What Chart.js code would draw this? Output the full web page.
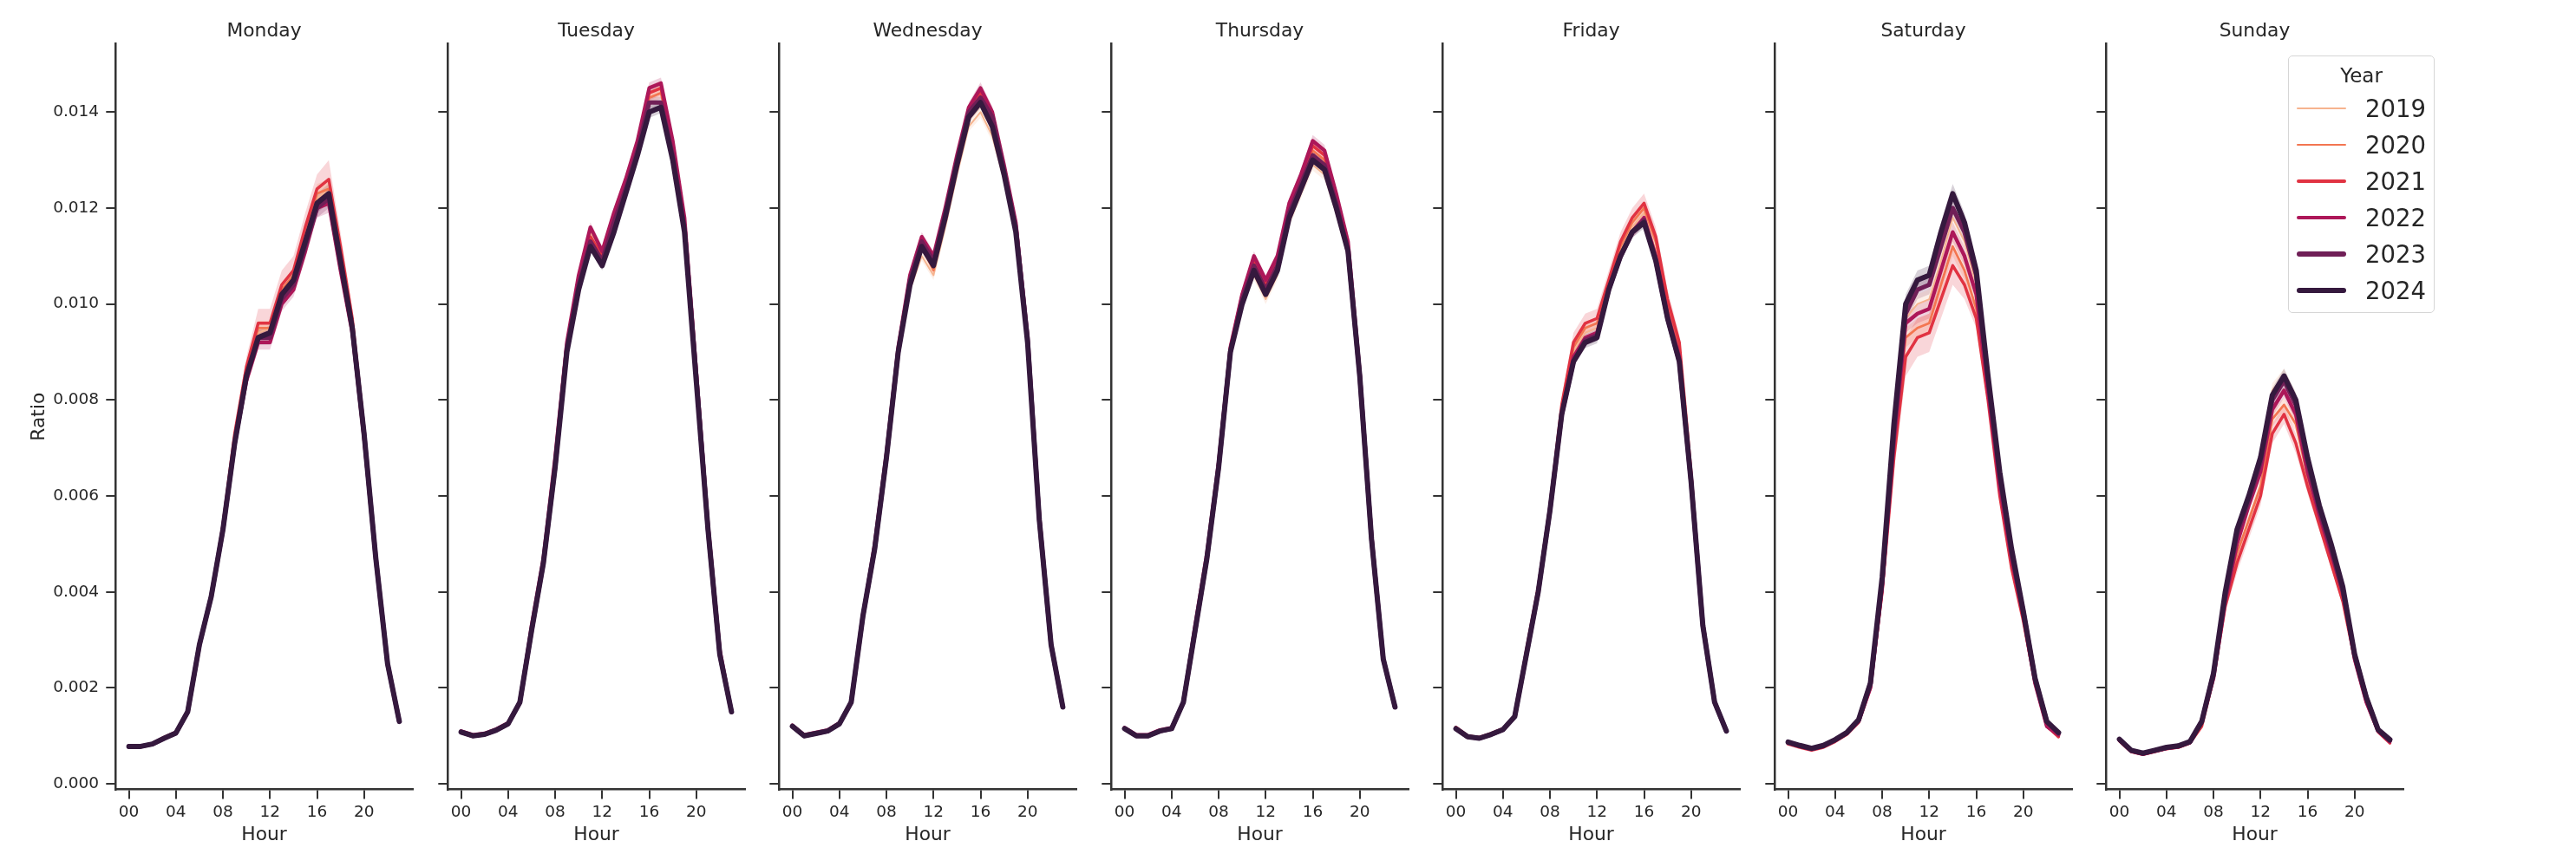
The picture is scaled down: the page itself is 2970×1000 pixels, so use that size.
<!DOCTYPE html>
<html>
<head>
<meta charset="utf-8">
<script src="https://cdn.jsdelivr.net/npm/chart.js@4.4.1/dist/chart.umd.min.js"></script>
<style>
  body { margin: 0; background: #fff; width: 2970px; height: 1000px; position: relative; overflow: hidden; font-family: "DejaVu Sans", sans-serif; }
  canvas { position: absolute; top: 0; }
  #legend { position: absolute; left: 2638px; top: 64px; width: 167px; height: 295px; border: 1.5px solid #d6d6d6; border-radius: 5px; background: rgba(255,255,255,0.85); color: #262626; z-index: 5; }
  #legend .ttl { position: absolute; left: 0; width: 167px; top: 9px; text-align: center; font-size: 23px; }
  #legend .row { position: absolute; left: 0; width: 167px; height: 40px; }
  #legend .swatch { position: absolute; left: 9px; width: 57px; border-radius: 3px; }
  #legend .lbl { position: absolute; left: 88px; font-size: 27.5px; line-height: 40px; top: 0; }
</style>
</head>
<body>
<div id="legend"><div class="ttl">Year</div></div>
<script>
const days = ['Monday', 'Tuesday', 'Wednesday', 'Thursday', 'Friday', 'Saturday', 'Sunday'];
const years = ['2019', '2020', '2021', '2022', '2023', '2024'];
const hours = [0, 1, 2, 3, 4, 5, 6, 7, 8, 9, 10, 11, 12, 13, 14, 15, 16, 17, 18, 19, 20, 21, 22, 23];
const xTicks = [0, 4, 8, 12, 16, 20];
const xTickLabels = ['00', '04', '08', '12', '16', '20'];
const yTicks = [0, 0.002, 0.004, 0.006, 0.008, 0.010, 0.012, 0.014];
const yTickLabels = ['0.000', '0.002', '0.004', '0.006', '0.008', '0.010', '0.012', '0.014'];

// ratio per year, one row per weekday (Mon..Sun), 24 hours each
const ratio2019 = [
  [0.00078,0.00078,0.00083,0.00095,0.00106,0.0015,0.0029,0.0039,0.0053,0.0072,0.0086,0.0094,0.0095,0.0102,0.0106,0.0114,0.0122,0.0124,0.0110,0.0096,0.0073,0.0047,0.0025,0.0013],
  [0.00108,0.00100,0.00103,0.00112,0.00125,0.0017,0.0032,0.0046,0.0067,0.0091,0.0105,0.0115,0.0110,0.0118,0.0125,0.0133,0.0144,0.0145,0.0132,0.0117,0.0085,0.0053,0.0027,0.0015],
  [0.00120,0.00100,0.00105,0.00110,0.00125,0.0017,0.0035,0.0049,0.0068,0.0089,0.0103,0.0110,0.0106,0.0116,0.0127,0.0137,0.0140,0.0135,0.0126,0.0114,0.0091,0.0055,0.0029,0.0016],
  [0.00115,0.00100,0.00100,0.00110,0.00115,0.0017,0.0032,0.0047,0.0066,0.0089,0.0100,0.0106,0.0101,0.0106,0.0117,0.0123,0.0129,0.0127,0.0119,0.0110,0.0084,0.0051,0.0026,0.0016],
  [0.00116,0.00099,0.00096,0.00104,0.00114,0.0014,0.0027,0.0040,0.0057,0.0078,0.0090,0.0094,0.0095,0.0104,0.0111,0.0116,0.0119,0.0111,0.0099,0.0090,0.0064,0.0033,0.0017,0.0011],
  [0.00085,0.00078,0.00072,0.00078,0.00090,0.00105,0.00130,0.0020,0.0041,0.0072,0.0097,0.0100,0.0101,0.0109,0.0118,0.0113,0.0104,0.0083,0.0063,0.0047,0.0035,0.0021,0.0012,0.00102],
  [0.00092,0.00069,0.00063,0.00069,0.00075,0.00078,0.00087,0.0013,0.0023,0.0039,0.0052,0.0059,0.0066,0.0082,0.0085,0.0080,0.0067,0.0057,0.0049,0.0040,0.0027,0.0018,0.00112,0.00090]
];
const ratio2020 = [
  [0.00078,0.00078,0.00083,0.00096,0.00107,0.0015,0.0029,0.0039,0.0054,0.0072,0.0086,0.0095,0.0095,0.0103,0.0106,0.0114,0.0123,0.0124,0.0110,0.0096,0.0073,0.0047,0.0025,0.0013],
  [0.00108,0.00100,0.00103,0.00112,0.00125,0.0017,0.0032,0.0046,0.0067,0.0091,0.0105,0.0114,0.0110,0.0117,0.0125,0.0133,0.0143,0.0144,0.0132,0.0117,0.0085,0.0053,0.0027,0.0015],
  [0.00120,0.00100,0.00105,0.00110,0.00125,0.0017,0.0035,0.0049,0.0068,0.0090,0.0104,0.0112,0.0107,0.0118,0.0129,0.0139,0.0142,0.0138,0.0127,0.0115,0.0092,0.0055,0.0029,0.0016],
  [0.00115,0.00100,0.00100,0.00110,0.00115,0.0017,0.0032,0.0047,0.0066,0.0090,0.0101,0.0108,0.0104,0.0108,0.0119,0.0125,0.0132,0.0130,0.0121,0.0111,0.0085,0.0051,0.0026,0.0016],
  [0.00117,0.00099,0.00096,0.00104,0.00114,0.0014,0.0027,0.0040,0.0058,0.0078,0.0091,0.0095,0.0096,0.0104,0.0112,0.0117,0.0120,0.0113,0.0100,0.0091,0.0064,0.0033,0.0017,0.0011],
  [0.00084,0.00077,0.00071,0.00077,0.00089,0.00104,0.00129,0.0020,0.0040,0.0070,0.0093,0.0095,0.0096,0.0104,0.0112,0.0107,0.0099,0.0081,0.0061,0.0046,0.0035,0.0021,0.0012,0.00100],
  [0.00090,0.00068,0.00062,0.00068,0.00074,0.00077,0.00086,0.0013,0.0022,0.0038,0.0048,0.0055,0.0062,0.0076,0.0079,0.0075,0.0064,0.0055,0.0047,0.0039,0.0026,0.0017,0.00110,0.00087]
];
const ratio2021 = [
  [0.00079,0.00079,0.00084,0.00097,0.00108,0.0015,0.0029,0.0039,0.0054,0.0073,0.0087,0.0096,0.0096,0.0104,0.0107,0.0116,0.0124,0.0126,0.0112,0.0097,0.0074,0.0048,0.0025,0.0013],
  [0.00109,0.00101,0.00104,0.00113,0.00126,0.0017,0.0032,0.0046,0.0067,0.0091,0.0105,0.0114,0.0110,0.0118,0.0125,0.0133,0.0144,0.0145,0.0133,0.0117,0.0085,0.0054,0.0027,0.0015],
  [0.00121,0.00101,0.00106,0.00111,0.00126,0.0017,0.0035,0.0049,0.0068,0.0090,0.0105,0.0113,0.0109,0.0119,0.0130,0.0140,0.0144,0.0139,0.0128,0.0116,0.0093,0.0055,0.0029,0.0016],
  [0.00116,0.00101,0.00101,0.00111,0.00116,0.0017,0.0032,0.0047,0.0067,0.0091,0.0102,0.0109,0.0104,0.0109,0.0120,0.0126,0.0133,0.0131,0.0122,0.0112,0.0086,0.0051,0.0026,0.0016],
  [0.00118,0.00100,0.00097,0.00105,0.00115,0.0014,0.0028,0.0041,0.0058,0.0079,0.0092,0.0096,0.0097,0.0105,0.0113,0.0118,0.0121,0.0114,0.0101,0.0092,0.0065,0.0034,0.0017,0.0011],
  [0.00083,0.00076,0.00070,0.00076,0.00088,0.00103,0.00128,0.0020,0.0040,0.0068,0.0089,0.0093,0.0094,0.0101,0.0108,0.0104,0.0097,0.0080,0.0060,0.0045,0.0034,0.0021,0.0012,0.00098],
  [0.00089,0.00067,0.00061,0.00067,0.00073,0.00076,0.00085,0.0012,0.0022,0.0037,0.0046,0.0053,0.0060,0.0073,0.0077,0.0071,0.0062,0.0054,0.0046,0.0038,0.0026,0.0017,0.00108,0.00085]
];
const ratio2022 = [
  [0.00078,0.00078,0.00083,0.00095,0.00105,0.0015,0.0029,0.0039,0.0053,0.0071,0.0084,0.0092,0.0092,0.0100,0.0103,0.0111,0.0120,0.0121,0.0107,0.0094,0.0072,0.0047,0.0025,0.0013],
  [0.00110,0.00102,0.00105,0.00114,0.00127,0.0017,0.0033,0.0047,0.0068,0.0092,0.0106,0.0116,0.0111,0.0119,0.0126,0.0134,0.0145,0.0146,0.0134,0.0118,0.0086,0.0054,0.0028,0.0015],
  [0.00122,0.00102,0.00107,0.00112,0.00127,0.0017,0.0035,0.0050,0.0069,0.0091,0.0106,0.0114,0.0110,0.0120,0.0131,0.0141,0.0145,0.0140,0.0129,0.0117,0.0093,0.0056,0.0029,0.0016],
  [0.00117,0.00102,0.00102,0.00112,0.00117,0.0017,0.0033,0.0048,0.0067,0.0091,0.0102,0.0110,0.0105,0.0110,0.0121,0.0127,0.0134,0.0132,0.0123,0.0113,0.0086,0.0052,0.0026,0.0016],
  [0.00115,0.00098,0.00095,0.00103,0.00113,0.0014,0.0027,0.0040,0.0057,0.0077,0.0089,0.0093,0.0094,0.0103,0.0110,0.0115,0.0118,0.0110,0.0098,0.0089,0.0063,0.0033,0.0017,0.0011],
  [0.00085,0.00078,0.00072,0.00078,0.00090,0.00105,0.00130,0.0020,0.0041,0.0071,0.0096,0.0098,0.0099,0.0107,0.0115,0.0110,0.0102,0.0082,0.0062,0.0047,0.0035,0.0021,0.0012,0.00102],
  [0.00091,0.00068,0.00062,0.00068,0.00074,0.00077,0.00086,0.0013,0.0022,0.0038,0.0050,0.0058,0.0065,0.0078,0.0082,0.0077,0.0065,0.0056,0.0048,0.0040,0.0026,0.0017,0.00110,0.00088]
];
const ratio2023 = [
  [0.00078,0.00078,0.00083,0.00095,0.00106,0.0015,0.0029,0.0039,0.0053,0.0071,0.0085,0.0093,0.0093,0.0101,0.0104,0.0112,0.0120,0.0122,0.0108,0.0095,0.0073,0.0047,0.0025,0.0013],
  [0.00108,0.00100,0.00103,0.00112,0.00125,0.0017,0.0032,0.0046,0.0066,0.0091,0.0104,0.0113,0.0109,0.0117,0.0124,0.0132,0.0142,0.0142,0.0131,0.0116,0.0085,0.0053,0.0027,0.0015],
  [0.00120,0.00100,0.00105,0.00110,0.00125,0.0017,0.0035,0.0049,0.0068,0.0090,0.0105,0.0113,0.0109,0.0119,0.0130,0.0140,0.0143,0.0139,0.0128,0.0116,0.0093,0.0055,0.0029,0.0016],
  [0.00115,0.00100,0.00100,0.00110,0.00115,0.0017,0.0032,0.0047,0.0066,0.0090,0.0101,0.0108,0.0103,0.0108,0.0119,0.0125,0.0131,0.0129,0.0121,0.0111,0.0085,0.0051,0.0026,0.0016],
  [0.00115,0.00098,0.00095,0.00103,0.00113,0.0014,0.0027,0.0040,0.0057,0.0077,0.0088,0.00925,0.00935,0.0103,0.0110,0.0115,0.01175,0.0109,0.0097,0.0088,0.0063,0.0033,0.0017,0.0011],
  [0.00086,0.00079,0.00073,0.00079,0.00091,0.00106,0.00132,0.0021,0.0042,0.0073,0.0098,0.0103,0.0104,0.0112,0.0120,0.0115,0.0106,0.0084,0.0064,0.0048,0.0036,0.0022,0.0013,0.00105],
  [0.00092,0.00069,0.00063,0.00069,0.00075,0.00078,0.00087,0.0013,0.0023,0.0039,0.0052,0.0059,0.0067,0.0080,0.0084,0.0079,0.0067,0.0057,0.0049,0.0040,0.0027,0.0018,0.00112,0.00090]
];
const ratio2024 = [
  [0.00078,0.00078,0.00083,0.00095,0.00106,0.0015,0.0029,0.0039,0.0053,0.0071,0.0085,0.0093,0.0094,0.0102,0.0105,0.0113,0.0121,0.0123,0.0109,0.0095,0.0073,0.0047,0.0025,0.0013],
  [0.00108,0.00100,0.00103,0.00112,0.00125,0.0017,0.0032,0.0046,0.0066,0.0090,0.0103,0.0112,0.0108,0.0115,0.0123,0.0131,0.0140,0.0141,0.0130,0.0115,0.0084,0.0053,0.0027,0.0015],
  [0.00120,0.00100,0.00105,0.00110,0.00125,0.0017,0.0035,0.0049,0.0068,0.0090,0.0104,0.0112,0.0108,0.0118,0.0129,0.0139,0.0142,0.0137,0.0127,0.0115,0.0092,0.0055,0.0029,0.0016],
  [0.00115,0.00100,0.00100,0.00110,0.00115,0.0017,0.0032,0.0047,0.0066,0.0090,0.0100,0.0107,0.0102,0.0107,0.0118,0.0124,0.0130,0.0128,0.0120,0.0111,0.0085,0.0051,0.0026,0.0016],
  [0.00115,0.00098,0.00095,0.00103,0.00113,0.0014,0.0027,0.0040,0.0057,0.0077,0.0088,0.0092,0.0093,0.0103,0.0110,0.0115,0.0117,0.0109,0.0097,0.0088,0.0063,0.0033,0.0017,0.0011],
  [0.00087,0.00080,0.00074,0.00080,0.00092,0.00107,0.00134,0.0021,0.0043,0.0075,0.0100,0.0105,0.0106,0.0115,0.0123,0.0117,0.0107,0.0085,0.0065,0.0049,0.0036,0.0022,0.0013,0.00107],
  [0.00093,0.00070,0.00064,0.00070,0.00076,0.00079,0.00088,0.0013,0.0023,0.0040,0.0053,0.0060,0.0068,0.0081,0.0085,0.0080,0.0068,0.0058,0.0050,0.0041,0.0027,0.0018,0.00113,0.00092]
];

// half width of the confidence band, 2021 has the widest
const ci2021 = [
  [0.00001,0.00001,0.00001,0.00002,0.00002,0.00003,0.00005,0.00007,0.0001,0.00015,0.0002,0.0003,0.0003,0.0003,0.0003,0.0003,0.0003,0.0004,0.0003,0.0002,0.00015,0.0001,0.00005,0.00003],
  [0.00001,0.00001,0.00001,0.00001,0.00002,0.00002,0.00004,0.00005,0.00007,0.0001,0.0001,0.00012,0.00012,0.00012,0.00012,0.00012,0.00015,0.00015,0.00012,0.0001,0.00008,0.00005,0.00003,0.00002],
  [0.00001,0.00001,0.00001,0.00001,0.00002,0.00002,0.00004,0.00005,0.00007,0.0001,0.0001,0.00012,0.00012,0.00012,0.00012,0.00012,0.00015,0.00015,0.00012,0.0001,0.00008,0.00005,0.00003,0.00002],
  [0.00001,0.00001,0.00001,0.00001,0.00002,0.00002,0.00004,0.00005,0.00007,0.0001,0.00012,0.00015,0.00015,0.00015,0.00015,0.00015,0.00015,0.00015,0.00012,0.0001,0.00008,0.00005,0.00003,0.00002],
  [0.00002,0.00001,0.00001,0.00001,0.00002,0.00003,0.00005,0.00007,0.0001,0.00015,0.0002,0.0002,0.0002,0.0002,0.0002,0.0002,0.0002,0.0002,0.0002,0.00015,0.0001,0.00006,0.00003,0.00002],
  [0.00002,0.00002,0.00002,0.00002,0.00002,0.00003,0.00004,0.00006,0.0001,0.0003,0.0004,0.0004,0.0004,0.0004,0.0004,0.0003,0.0002,0.00015,0.0001,0.00008,0.00006,0.00004,0.00003,0.00002],
  [0.00002,0.00002,0.00002,0.00002,0.00002,0.00002,0.00003,0.00005,0.00008,0.00012,0.0002,0.0002,0.0002,0.0002,0.0002,0.0002,0.00015,0.00012,0.0001,0.00008,0.00006,0.00004,0.00003,0.00002]
];
const ciOther = [
  [0.00001,0.00001,0.00001,0.00001,0.00001,0.00002,0.00004,0.00005,0.00007,0.0001,0.00012,0.00015,0.00015,0.00015,0.00015,0.00015,0.0002,0.0002,0.00015,0.0001,0.00008,0.00005,0.00003,0.00002],
  [0.00001,0.00001,0.00001,0.00001,0.00001,0.00002,0.00003,0.00004,0.00005,0.00007,0.00008,0.0001,0.0001,0.0001,0.0001,0.0001,0.00012,0.00012,0.0001,0.00008,0.00006,0.00004,0.00002,0.00001],
  [0.00001,0.00001,0.00001,0.00001,0.00001,0.00002,0.00003,0.00004,0.00005,0.00007,0.00008,0.0001,0.0001,0.0001,0.0001,0.0001,0.00012,0.00012,0.0001,0.00008,0.00006,0.00004,0.00002,0.00001],
  [0.00001,0.00001,0.00001,0.00001,0.00001,0.00002,0.00003,0.00004,0.00005,0.00007,0.00008,0.0001,0.0001,0.0001,0.0001,0.0001,0.00012,0.00012,0.0001,0.00008,0.00006,0.00004,0.00002,0.00001],
  [0.00001,0.00001,0.00001,0.00001,0.00001,0.00002,0.00003,0.00004,0.00006,0.00008,0.0001,0.00012,0.00012,0.00012,0.00012,0.00012,0.00012,0.00012,0.0001,0.00008,0.00006,0.00004,0.00002,0.00001],
  [0.00002,0.00002,0.00002,0.00002,0.00002,0.00002,0.00003,0.00005,0.0001,0.00015,0.0002,0.0002,0.0002,0.0002,0.0002,0.0002,0.00015,0.00012,0.0001,0.00008,0.00006,0.00004,0.00003,0.00002],
  [0.00002,0.00002,0.00002,0.00002,0.00002,0.00002,0.00002,0.00004,0.00006,0.00008,0.0001,0.00012,0.00015,0.00015,0.00015,0.00015,0.00012,0.0001,0.00008,0.00006,0.00005,0.00004,0.00003,0.00002]
];

const allRatios = [ratio2019, ratio2020, ratio2021, ratio2022, ratio2023, ratio2024];
const colors = ['#f6b48f', '#f37651', '#e13342', '#ad1759', '#701f57', '#35193e'];
const bandColors = ['rgba(246,180,143,0.2)', 'rgba(243,118,81,0.2)', 'rgba(225,51,66,0.2)', 'rgba(173,23,89,0.2)', 'rgba(112,31,87,0.2)', 'rgba(53,25,62,0.2)'];
const widths = [1.9, 2.7, 3.5, 4.3, 5.1, 6.0];

const areaLefts = [133, 516, 898, 1281, 1663, 2046, 2428];
const AREA_W = 343;
const textColor = '#262626';
const axisColor = '#333333';
const FONT = 'DejaVu Sans';

function pts(arr, d) {
    return hours.map((h, k) => ({ x: h, y: arr[k] + d[k] }));
}

days.forEach((day, i) => {
    const yW = i === 0 ? 133 : 30;
    const cv = document.createElement('canvas');
    cv.width = yW + AREA_W + 12;
    cv.height = 1000;
    cv.style.left = (areaLefts[i] - yW) + 'px';
    document.body.appendChild(cv);

    const datasets = [];
    allRatios.forEach((r, j) => {
        const ci = j === 2 ? ci2021[i] : ciOther[i];
        const neg = ci.map(v => -v);
        datasets.push({
            data: pts(r[i], ci), fill: '+1', backgroundColor: bandColors[j],
            borderColor: 'transparent', borderWidth: 0, pointRadius: 0, order: 20 + j
        });
        datasets.push({
            data: pts(r[i], neg), fill: false,
            borderColor: 'transparent', borderWidth: 0, pointRadius: 0, order: 20 + j
        });
    });
    allRatios.forEach((r, j) => {
        datasets.push({
            label: years[j],
            data: hours.map((h, k) => ({ x: h, y: r[i][k] })),
            borderColor: colors[j], borderWidth: widths[j],
            pointRadius: 0, fill: false, tension: 0,
            borderCapStyle: 'round', borderJoinStyle: 'round',
            order: 5 - j
        });
    });

    new Chart(cv, {
        type: 'line',
        data: { datasets: datasets },
        options: {
            responsive: false,
            animation: false,
            devicePixelRatio: 1,
            layout: { padding: { top: 25.1, left: 0, right: 12, bottom: 0 } },
            plugins: {
                legend: { display: false },
                tooltip: { enabled: false },
                title: {
                    display: true, text: day, fullSize: false, color: textColor,
                    font: { family: FONT, size: 21.8, weight: 'normal', lineHeight: 1.0 },
                    padding: { top: 0, bottom: 3.8 }
                }
            },
            scales: {
                x: {
                    type: 'linear', min: -1.15, max: 24.15,
                    afterFit: s => { s.height = 89.3; },
                    afterBuildTicks: s => { s.ticks = xTicks.map(v => ({ value: v })); },
                    ticks: {
                        callback: v => xTickLabels[xTicks.indexOf(v)],
                        color: textColor, font: { family: FONT, size: 18.5 },
                        padding: 5, autoSkip: false, maxRotation: 0
                    },
                    grid: { drawOnChartArea: false, drawTicks: true, tickLength: 10.7, color: axisColor, lineWidth: 2 },
                    border: { display: true, color: axisColor, width: 2.5 },
                    title: {
                        display: true, text: 'Hour', color: textColor,
                        font: { family: FONT, size: 21.8 }, padding: { top: 0, bottom: 23.5 }
                    }
                },
                y: {
                    type: 'linear', min: -0.00012, max: 0.01542,
                    afterFit: s => { s.width = yW; },
                    afterBuildTicks: s => { s.ticks = yTicks.map(v => ({ value: v })); },
                    ticks: {
                        display: i === 0,
                        callback: v => yTickLabels[yTicks.indexOf(v)],
                        color: textColor, font: { family: FONT, size: 18.5 }, padding: 8.2
                    },
                    grid: { drawOnChartArea: false, drawTicks: true, tickLength: 10.7, color: axisColor, lineWidth: 2 },
                    border: { display: true, color: axisColor, width: 2.5 },
                    title: {
                        display: i === 0, text: 'Ratio', color: textColor,
                        font: { family: FONT, size: 21.8 }, padding: { top: 31.9, bottom: 0 }
                    }
                }
            }
        }
    });
});

// legend box on the Sunday panel
const legend = document.getElementById('legend');
years.forEach((yr, j) => {
    const row = document.createElement('div');
    row.className = 'row';
    row.style.top = (40 + 42 * j) + 'px';
    const sw = document.createElement('div');
    sw.className = 'swatch';
    sw.style.height = widths[j] + 'px';
    sw.style.top = (20 - widths[j] / 2) + 'px';
    sw.style.background = colors[j];
    const lb = document.createElement('div');
    lb.className = 'lbl';
    lb.textContent = yr;
    row.appendChild(sw);
    row.appendChild(lb);
    legend.appendChild(row);
});
</script>
</body>
</html>
